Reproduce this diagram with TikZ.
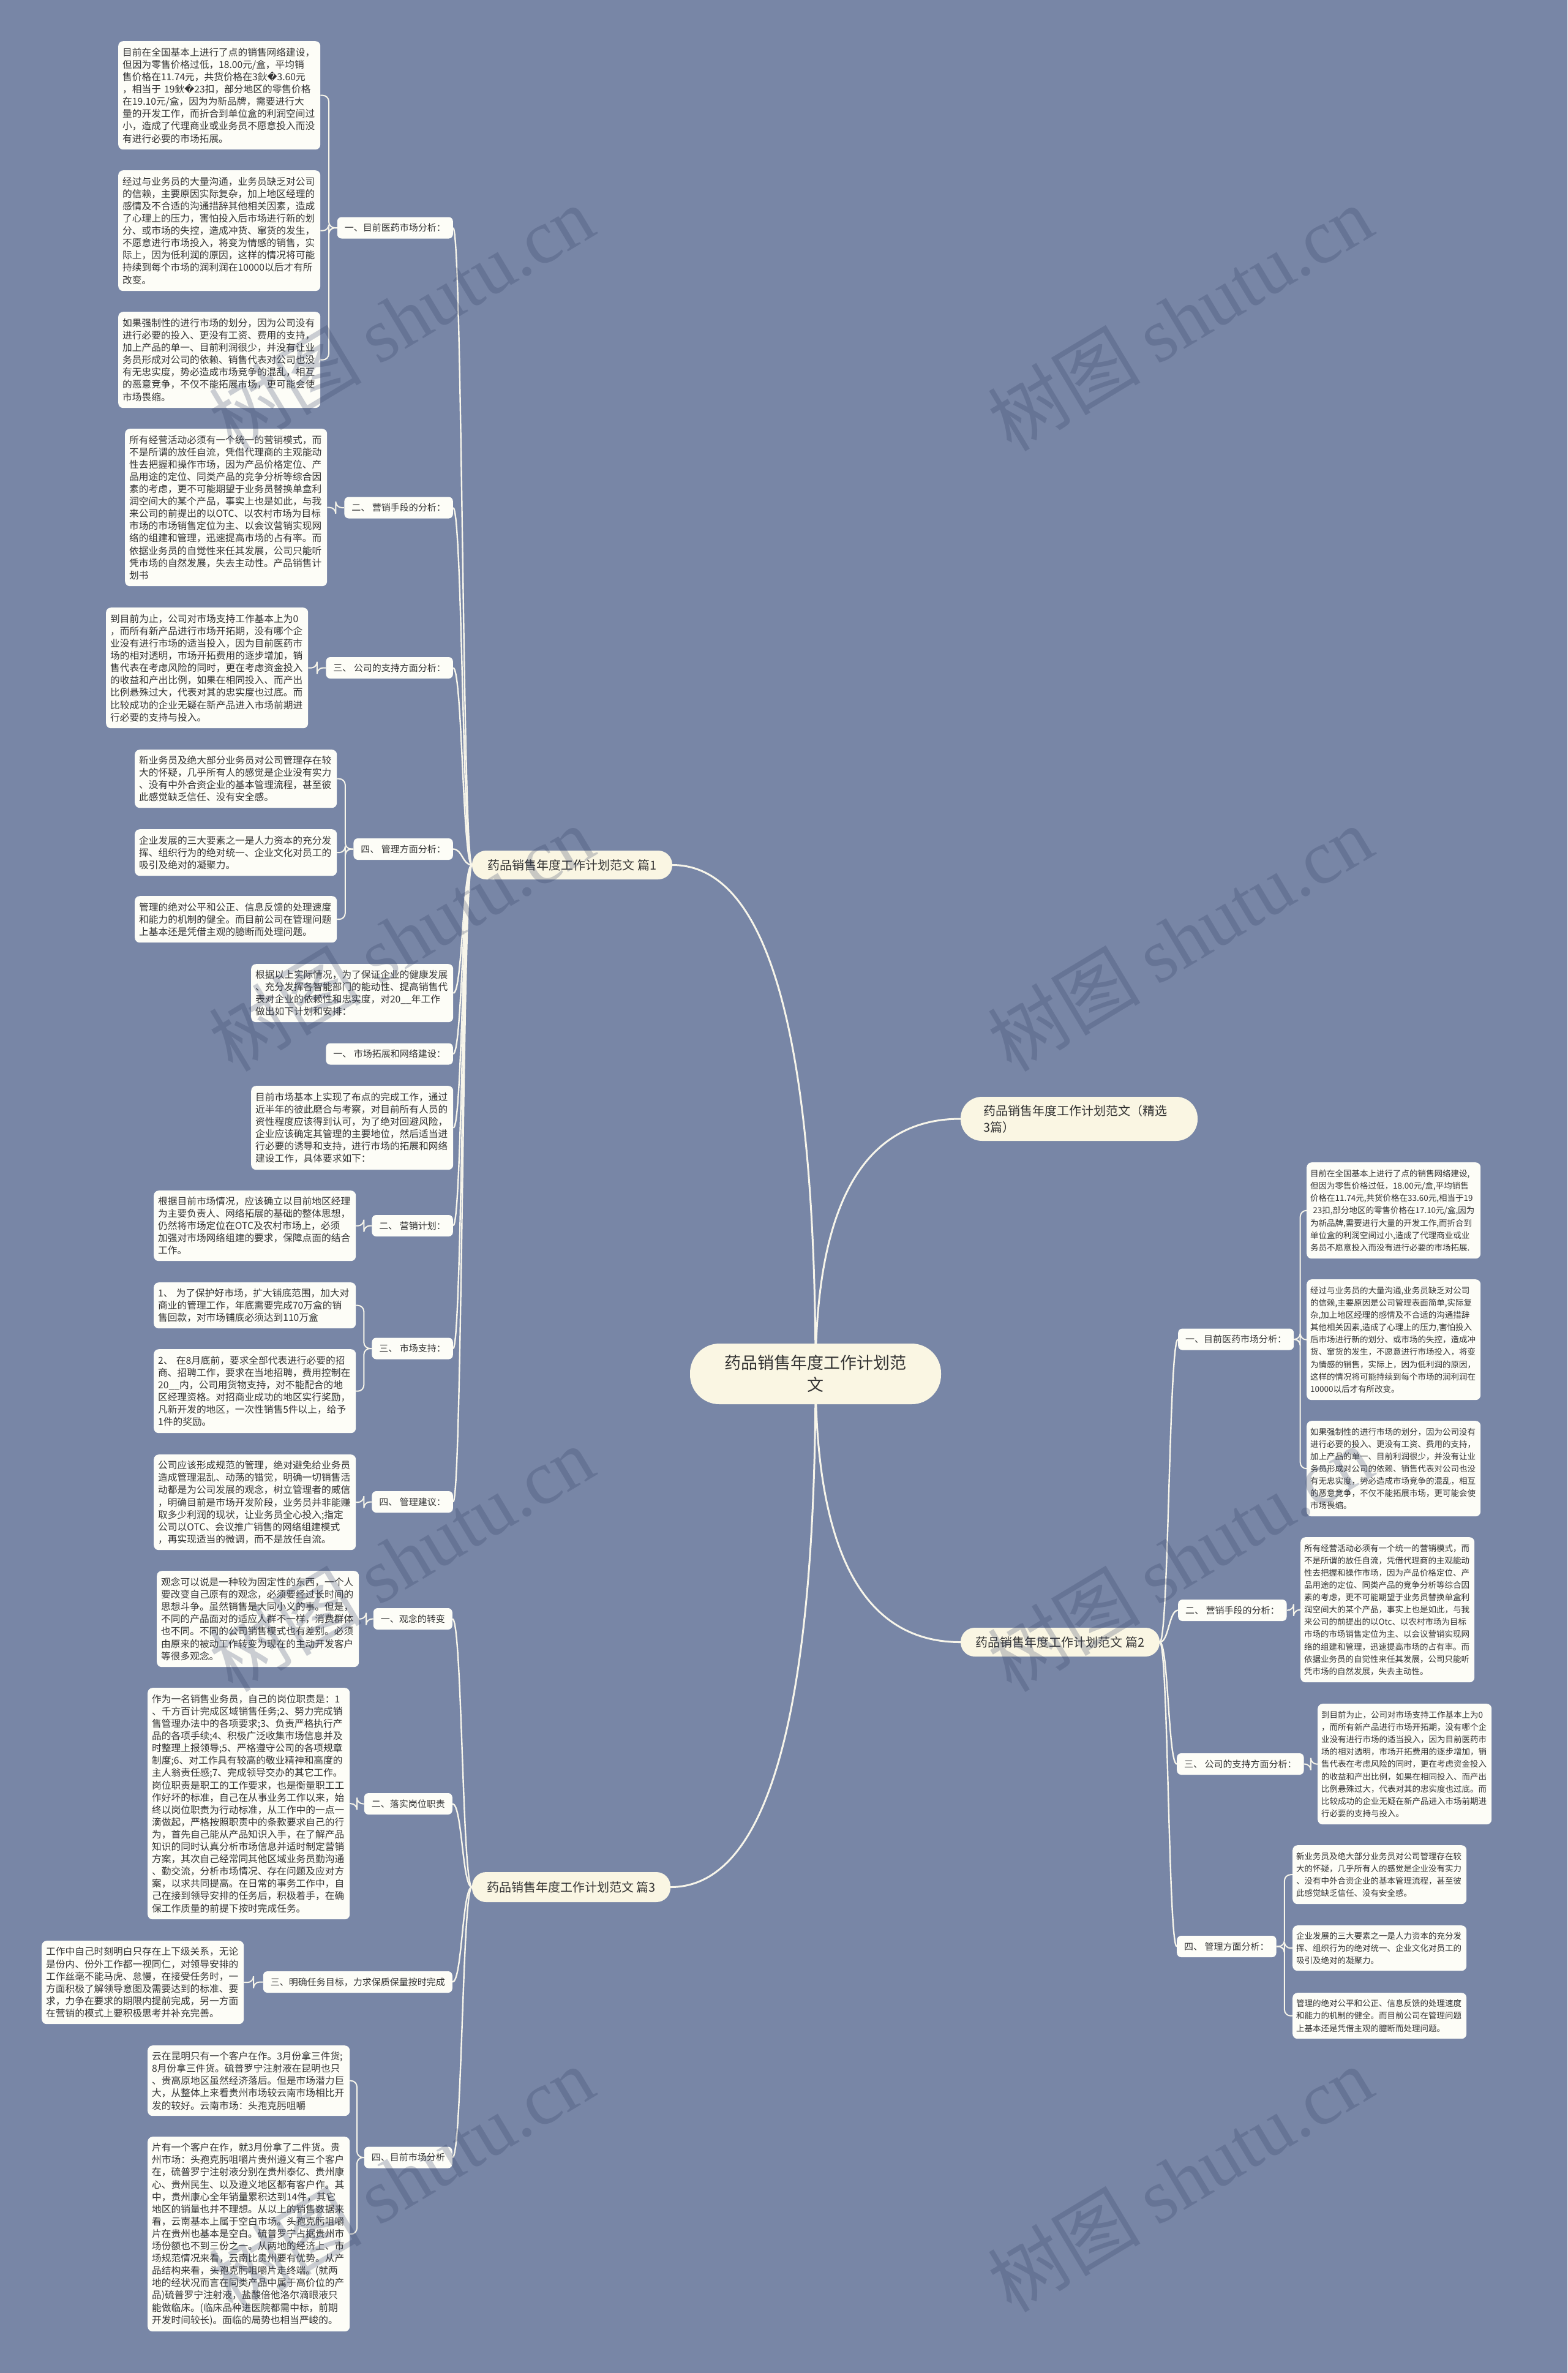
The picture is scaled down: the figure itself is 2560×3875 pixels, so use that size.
\documentclass[tikz,border=0pt]{standalone}
\usepackage{fontspec}
\setmainfont{Noto Sans CJK SC}
\newfontfamily\dvfont{DejaVu Sans}
\newfontfamily\wmserif{Liberation Serif}
\usetikzlibrary{calc}
\pgfdeclarelayer{bg}
\pgfdeclarelayer{fg}
\pgfsetlayers{bg,main,fg}
\definecolor{bgc}{HTML}{7886A6}
\definecolor{leaffill}{HTML}{FDFDF7}
\definecolor{brfill}{HTML}{FAF6E3}
\definecolor{txt}{HTML}{333333}
\definecolor{linec}{HTML}{F7F5EA}
\definecolor{wmc}{RGB}{52,64,100}
\newcommand\repchar{{\dvfont\symbol{"FFFD}}}
\begin{document}
\begin{tikzpicture}[x=1pt,y=-1pt,
  leafL/.style={fill=leaffill, rounded corners=8pt, inner xsep=7pt, inner ysep=0pt,
    minimum width=330pt, text width=316pt, align=left, anchor=north west,
    font=\fontsize{15.7}{20.1}\selectfont, text=txt},
  leafR/.style={leafL, minimum width=284pt, text width=272pt, inner xsep=6pt,
    font=\fontsize{13.5}{20.1}\selectfont},
  lab/.style={fill=leaffill, rounded corners=7pt, inner xsep=12pt, inner ysep=0pt,
    minimum height=35pt, font=\fontsize{15}{18}\selectfont, text=txt},
  br/.style={fill=brfill, rounded corners=23pt, inner xsep=0pt, inner ysep=0pt,
    minimum height=47pt, font=\fontsize{20}{27}\selectfont, text=txt, align=center},
  rootnode/.style={fill=brfill, rounded corners=48pt, minimum width=410pt,
    minimum height=99pt, text width=300pt, align=center, inner xsep=0pt,
    font=\fontsize{27}{36}\selectfont, text=txt},
  wm/.style={rotate=31, text=wmc, opacity=0.25, font=\fontsize{125}{130}\selectfont, inner sep=0pt},
  rootlink/.style={line width=3pt, draw=linec,
    to path={.. controls ($(\tikztostart)!0.6667!(\tikztostart |- \tikztotarget)$)
      and ($(\tikztotarget)!0.6667!(\tikztostart |- \tikztotarget)$) .. (\tikztotarget)}},
  blink/.style={line width=2.4pt, draw=linec,
    to path={.. controls ($(\tikztostart)!0.5!(\tikztostart -| \tikztotarget)$)
      and ($(\tikztotarget)!0.5!(\tikztotarget -| \tikztostart)$) .. (\tikztotarget)}},
  elink/.style={line width=2pt, draw=linec, rounded corners=10pt,
    to path={-- ($(\tikztostart)!0.5!(\tikztostart -| \tikztotarget)$) |- (\tikztotarget)}}
]
\useasboundingbox (0,0) rectangle (2560,3875);

% root and main branches
\node[rootnode] (root) at (1332,2243.5) {药品销售年度工作计划范\\文};
\node[br, minimum width=327pt] (b1) at (934.5,1412.5) {药品销售年度工作计划范文 篇1};
\node[br, minimum width=387pt, minimum height=72pt, rounded corners=35pt, text width=313pt,
  inner xsep=37pt, align=left] (bsel) at (1762.5,1827) {药品销售年度工作计划范文（精选\\3篇）};
\node[br, minimum width=325pt] (b2) at (1731.5,2681.5) {药品销售年度工作计划范文 篇2};
\node[br, minimum width=324pt, minimum height=49pt] (b3) at (933,3081.5) {药品销售年度工作计划范文 篇3};

% ---------------- Branch 1 ----------------
\node[lab, anchor=east] (s1) at (740,372) {一、目前医药市场分析：};
\node[lab, anchor=east] (s2) at (740,829) {二、 营销手段的分析：};
\node[lab, anchor=east] (s3) at (740,1090.5) {三、 公司的支持方面分析：};
\node[lab, anchor=east] (s4) at (740,1386.5) {四、 管理方面分析：};
\node[lab, anchor=east] (s6) at (740,1721) {一、 市场拓展和网络建设：};
\node[lab, anchor=east] (s8) at (740,2001.5) {二、 营销计划：};
\node[lab, anchor=east] (s9) at (740,2202) {三、 市场支持：};
\node[lab, anchor=east] (s10) at (740,2452.5) {四、 管理建议：};

\node[leafL, minimum height=177pt] (l1a) at (193,67) {目前在全国基本上进行了点的销售网络建设，\\但因为零售价格过低，18.00元/盒，平均销\\售价格在11.74元，共货价格在3鈥\repchar3.60元\\，相当于~19鈥\repchar23扣，部分地区的零售价格\\在19.10元/盒，因为为新品牌，需要进行大\\量的开发工作，而折合到单位盒的利润空间过\\小，造成了代理商业或业务员不愿意投入而没\\有进行必要的市场拓展。};
\node[leafL, minimum height=197pt] (l1b) at (193,278) {经过与业务员的大量沟通，业务员缺乏对公司\\的信赖，主要原因实际复杂，加上地区经理的\\感情及不合适的沟通措辞其他相关因素，造成\\了心理上的压力，害怕投入后市场进行新的划\\分、或市场的失控，造成冲货、窜货的发生，\\不愿意进行市场投入，将变为情感的销售，实\\际上，因为低利润的原因，这样的情况将可能\\持续到每个市场的润利润在10000以后才有所\\改变。};
\node[leafL, minimum height=157pt] (l1c) at (193,509) {如果强制性的进行市场的划分，因为公司没有\\进行必要的投入、更没有工资、费用的支持，\\加上产品的单一、目前利润很少，并没有让业\\务员形成对公司的依赖、销售代表对公司也没\\有无忠实度，势必造成市场竞争的混乱，相互\\的恶意竞争，不仅不能拓展市场，更可能会使\\市场畏缩。};
\node[leafL, minimum height=257pt] (l2a) at (204,700) {所有经营活动必须有一个统一的营销模式，而\\不是所谓的放任自流，凭借代理商的主观能动\\性去把握和操作市场，因为产品价格定位、产\\品用途的定位、同类产品的竞争分析等综合因\\素的考虑，更不可能期望于业务员替换单盒利\\润空间大的某个产品，事实上也是如此，与我\\来公司的前提出的以OTC、以农村市场为目标\\市场的市场销售定位为主、以会议营销实现网\\络的组建和管理，迅速提高市场的占有率。而\\依据业务员的自觉性来任其发展，公司只能听\\凭市场的自然发展，失去主动性。产品销售计\\划书};
\node[leafL, minimum height=197pt] (l3a) at (173,992) {到目前为止，公司对市场支持工作基本上为0\\，而所有新产品进行市场开拓期，没有哪个企\\业没有进行市场的适当投入，因为目前医药市\\场的相对透明，市场开拓费用的逐步增加，销\\售代表在考虑风险的同时，更在考虑资金投入\\的收益和产出比例，如果在相同投入、而产出\\比例悬殊过大，代表对其的忠实度也过底。而\\比较成功的企业无疑在新产品进入市场前期进\\行必要的支持与投入。};
\node[leafL, minimum height=95pt] (l4a) at (220,1224) {新业务员及绝大部分业务员对公司管理存在较\\大的怀疑，几乎所有人的感觉是企业没有实力\\、没有中外合资企业的基本管理流程，甚至彼\\此感觉缺乏信任、没有安全感。};
\node[leafL, minimum height=76pt] (l4b) at (220,1354) {企业发展的三大要素之一是人力资本的充分发\\挥、组织行为的绝对统一、企业文化对员工的\\吸引及绝对的凝聚力。};
\node[leafL, minimum height=76pt] (l4c) at (220,1463) {管理的绝对公平和公正、信息反馈的处理速度\\和能力的机制的健全。而目前公司在管理问题\\上基本还是凭借主观的臆断而处理问题。};
\node[leafL, minimum height=95pt] (p5) at (410,1574) {根据以上实际情况，为了保证企业的健康发展\\、充分发挥各智能部门的能动性、提高销售代\\表对企业的依赖性和忠实度，对20\_\_年工作\\做出如下计划和安排：};
\node[leafL, minimum height=137pt] (p7) at (410,1773) {目前市场基本上实现了布点的完成工作，通过\\近半年的彼此磨合与考察，对目前所有人员的\\资性程度应该得到认可，为了绝对回避风险，\\企业应该确定其管理的主要地位，然后适当进\\行必要的诱导和支持，进行市场的拓展和网络\\建设工作，具体要求如下：};
\node[leafL, minimum height=115pt] (l8a) at (251,1944) {根据目前市场情况，应该确立以目前地区经理\\为主要负责人、网络拓展的基础的整体思想，\\仍然将市场定位在OTC及农村市场上，必须\\加强对市场网络组建的要求，保障点面的结合\\工作。};
\node[leafL, minimum height=75pt] (l9a) at (251,2094) {1、~为了保护好市场，扩大铺底范围，加大对\\商业的管理工作，年底需要完成70万盒的销\\售回款，对市场铺底必须达到110万盒};
\node[leafL, minimum height=137pt] (l9b) at (251,2203) {2、~在8月底前，要求全部代表进行必要的招\\商、招聘工作，要求在当地招聘，费用控制在\\20\_\_内，公司用货物支持，对不能配合的地\\区经理资格。对招商业成功的地区实行奖励，\\凡新开发的地区，一次性销售5件以上，给予\\1件的奖励。};
\node[leafL, minimum height=156pt] (l10a) at (251,2375) {公司应该形成规范的管理，绝对避免给业务员\\造成管理混乱、动荡的错觉，明确一切销售活\\动都是为公司发展的观念，树立管理者的威信\\，明确目前是市场开发阶段，业务员并非能赚\\取多少利润的现状，让业务员全心投入;指定\\公司以OTC、会议推广销售的网络组建模式\\，再实现适当的微调，而不是放任自流。};

% ---------------- Branch 2 ----------------
\node[lab, anchor=west] (rs1) at (1924,2187) {一、目前医药市场分析：};
\node[lab, anchor=west] (rs2) at (1924,2629.5) {二、 营销手段的分析：};
\node[lab, anchor=west] (rs3) at (1922,2880.5) {三、 公司的支持方面分析：};
\node[lab, anchor=west] (rs4) at (1922,3178.5) {四、 管理方面分析：};

\node[leafR, minimum height=157pt] (rl1a) at (2134,1898) {目前在全国基本上进行了点的销售网络建设,\\但因为零售价格过低，18.00元/盒,平均销售\\价格在11.74元,共货价格在33.60元,相当于19\\\hspace*{0.3em}23扣,部分地区的零售价格在17.10元/盒,因为\\为新品牌,需要进行大量的开发工作,而折合到\\单位盒的利润空间过小,造成了代理商业或业\\务员不愿意投入而没有进行必要的市场拓展.};
\node[leafR, minimum height=197pt] (rl1b) at (2134,2089) {经过与业务员的大量沟通,业务员缺乏对公司\\的信赖,主要原因是公司管理表面简单,实际复\\杂,加上地区经理的感情及不合适的沟通措辞\\其他相关因素,造成了心理上的压力,害怕投入\\后市场进行新的划分、或市场的失控，造成冲\\货、窜货的发生，不愿意进行市场投入，将变\\为情感的销售，实际上，因为低利润的原因，\\这样的情况将可能持续到每个市场的润利润在\\10000以后才有所改变。};
\node[leafR, minimum height=156pt] (rl1c) at (2134,2320) {如果强制性的进行市场的划分，因为公司没有\\进行必要的投入、更没有工资、费用的支持，\\加上产品的单一、目前利润很少，并没有让业\\务员形成对公司的依赖、销售代表对公司也没\\有无忠实度，势必造成市场竞争的混乱，相互\\的恶意竞争，不仅不能拓展市场，更可能会使\\市场畏缩。};
\node[leafR, minimum height=237pt] (rl2a) at (2124,2510) {所有经营活动必须有一个统一的营销模式，而\\不是所谓的放任自流，凭借代理商的主观能动\\性去把握和操作市场，因为产品价格定位、产\\品用途的定位、同类产品的竞争分析等综合因\\素的考虑，更不可能期望于业务员替换单盒利\\润空间大的某个产品，事实上也是如此，与我\\来公司的前提出的以Otc、以农村市场为目标\\市场的市场销售定位为主、以会议营销实现网\\络的组建和管理，迅速提高市场的占有率。而\\依据业务员的自觉性来任其发展，公司只能听\\凭市场的自然发展，失去主动性。};
\node[leafR, minimum height=197pt] (rl3a) at (2152,2782) {到目前为止，公司对市场支持工作基本上为0\\，而所有新产品进行市场开拓期，没有哪个企\\业没有进行市场的适当投入，因为目前医药市\\场的相对透明，市场开拓费用的逐步增加，销\\售代表在考虑风险的同时，更在考虑资金投入\\的收益和产出比例，如果在相同投入、而产出\\比例悬殊过大，代表对其的忠实度也过底。而\\比较成功的企业无疑在新产品进入市场前期进\\行必要的支持与投入。};
\node[leafR, minimum height=96pt] (rl4a) at (2111,3013) {新业务员及绝大部分业务员对公司管理存在较\\大的怀疑，几乎所有人的感觉是企业没有实力\\、没有中外合资企业的基本管理流程，甚至彼\\此感觉缺乏信任、没有安全感。};
\node[leafR, minimum height=74pt] (rl4b) at (2111,3144) {企业发展的三大要素之一是人力资本的充分发\\挥、组织行为的绝对统一、企业文化对员工的\\吸引及绝对的凝聚力。};
\node[leafR, minimum height=75pt] (rl4c) at (2111,3254) {管理的绝对公平和公正、信息反馈的处理速度\\和能力的机制的健全。而目前公司在管理问题\\上基本还是凭借主观的臆断而处理问题。};

% ---------------- Branch 3 ----------------
\node[lab, anchor=east] (t1) at (739,2643.5) {一、观念的转变};
\node[lab, anchor=east] (t2) at (739,2945.5) {二、落实岗位职责};
\node[lab, anchor=east] (t3) at (739,3236.5) {三、明确任务目标，力求保质保量按时完成};
\node[lab, anchor=east] (t4) at (739,3523) {四、目前市场分析};

\node[leafL, minimum height=157pt] (u1) at (256,2565) {观念可以说是一种较为固定性的东西，一个人\\要改变自己原有的观念，必须要经过长时间的\\思想斗争。虽然销售是大同小义的事。但是，\\不同的产品面对的适应人群不一样，消费群体\\也不同。不同的公司销售模式也有差别。必须\\由原来的被动工作转变为现在的主动开发客户\\等很多观念。};
\node[leafL, minimum height=378pt] (u2) at (241,2756) {作为一名销售业务员，自己的岗位职责是：1\\、千方百计完成区域销售任务;2、努力完成销\\售管理办法中的各项要求;3、负责严格执行产\\品的各项手续;4、积极广泛收集市场信息并及\\时整理上报领导;5、严格遵守公司的各项规章\\制度;6、对工作具有较高的敬业精神和高度的\\主人翁责任感;7、完成领导交办的其它工作。\\岗位职责是职工的工作要求，也是衡量职工工\\作好坏的标准，自己在从事业务工作以来，始\\终以岗位职责为行动标准，从工作中的一点一\\滴做起，严格按照职责中的条款要求自己的行\\为，首先自己能从产品知识入手，在了解产品\\知识的同时认真分析市场信息并适时制定营销\\方案，其次自己经常同其他区域业务员勤沟通\\、勤交流，分析市场情况、存在问题及应对方\\案，以求共同提高。在日常的事务工作中，自\\己在接到领导安排的任务后，积极着手，在确\\保工作质量的前提下按时完成任务。};
\node[leafL, minimum height=136pt] (u3) at (68,3169) {工作中自己时刻明白只存在上下级关系，无论\\是份内、份外工作都一视同仁，对领导安排的\\工作丝毫不能马虎、怠慢，在接受任务时，一\\方面积极了解领导意图及需要达到的标准、要\\求，力争在要求的期限内提前完成，另一方面\\在营销的模式上要积极思考并补充完善。};
\node[leafL, minimum height=115pt] (u4a) at (241,3340) {云在昆明只有一个客户在作。3月份拿三件货;\\8月份拿三件货。硫普罗宁注射液在昆明也只\\、贵高原地区虽然经济落后。但是市场潜力巨\\大，从整体上来看贵州市场较云南市场相比开\\发的较好。云南市场：头孢克肟咀嚼};
\node[leafL, minimum height=318pt] (u4b) at (241,3489) {片有一个客户在作，就3月份拿了二件货。贵\\州市场：头孢克肟咀嚼片贵州遵义有三个客户\\在，硫普罗宁注射液分别在贵州泰亿、贵州康\\心、贵州民生、以及遵义地区都有客户作。其\\中，贵州康心全年销量累积达到14件，其它\\地区的销量也并不理想。从以上的销售数据来\\看，云南基本上属于空白市场。头孢克肟咀嚼\\片在贵州也基本是空白。硫普罗宁占据贵州市\\场份额也不到三份之一。从两地的经济上、市\\场规范情况来看，云南比贵州要有优势。从产\\品结构来看，头孢克肟咀嚼片走终端。(就两\\地的经状况而言在同类产品中属于高价位的产\\品)硫普罗宁注射液，盐酸倍他洛尔滴眼液只\\能做临床。(临床品种进医院都需中标，前期\\开发时间较长)。面临的局势也相当严峻的。};

% ---------------- connectors ----------------
\begin{pgfonlayer}{bg}
\fill[bgc] (0,0) rectangle (2560,3875);
\draw[rootlink] (root.center) to (b1.east);
\draw[rootlink] (root.center) to (bsel.west);
\draw[rootlink] (root.center) to (b2.west);
\draw[rootlink] (root.center) to (b3.east);
\foreach \n in {s1,s2,s3,s4,p5,s6,p7,s8,s9,s10} \draw[blink] (b1.west) to (\n.east);
\foreach \n in {rs1,rs2,rs3,rs4} \draw[blink] (b2.east) to (\n.west);
\foreach \n in {t1,t2,t3,t4} \draw[blink] (b3.west) to (\n.east);
\foreach \n in {l1a,l1b,l1c} \draw[elink] (s1.west) to (\n.east);
\draw[elink] (s2.west) to (l2a.east);
\draw[elink] (s3.west) to (l3a.east);
\foreach \n in {l4a,l4b,l4c} \draw[elink] (s4.west) to (\n.east);
\draw[elink] (s8.west) to (l8a.east);
\foreach \n in {l9a,l9b} \draw[elink] (s9.west) to (\n.east);
\draw[elink] (s10.west) to (l10a.east);
\foreach \n in {rl1a,rl1b,rl1c} \draw[elink] (rs1.east) to (\n.west);
\draw[elink] (rs2.east) to (rl2a.west);
\draw[elink] (rs3.east) to (rl3a.west);
\foreach \n in {rl4a,rl4b,rl4c} \draw[elink] (rs4.east) to (\n.west);
\draw[elink] (t1.west) to (u1.east);
\draw[elink] (t2.west) to (u2.east);
\draw[elink] (t3.west) to (u3.east);
\foreach \n in {u4a,u4b} \draw[elink] (t4.west) to (\n.east);
\end{pgfonlayer}

% ---------------- watermarks ----------------
\begin{pgfonlayer}{fg}
\node[wm] (wm1) at (655,519) {树图 {\wmserif shutu.cn}};
\node[wm] (wm2) at (1927,519) {树图 {\wmserif shutu.cn}};
\node[wm] (wm3) at (655,1532) {树图 {\wmserif shutu.cn}};
\node[wm] (wm4) at (1927,1532) {树图 {\wmserif shutu.cn}};
\node[wm] (wm5) at (655,2545) {树图 {\wmserif shutu.cn}};
\node[wm] (wm6) at (1927,2545) {树图 {\wmserif shutu.cn}};
\node[wm] (wm7) at (655,3558) {树图 {\wmserif shutu.cn}};
\node[wm] (wm8) at (1927,3558) {树图 {\wmserif shutu.cn}};
\end{pgfonlayer}
\end{tikzpicture}
\end{document}
